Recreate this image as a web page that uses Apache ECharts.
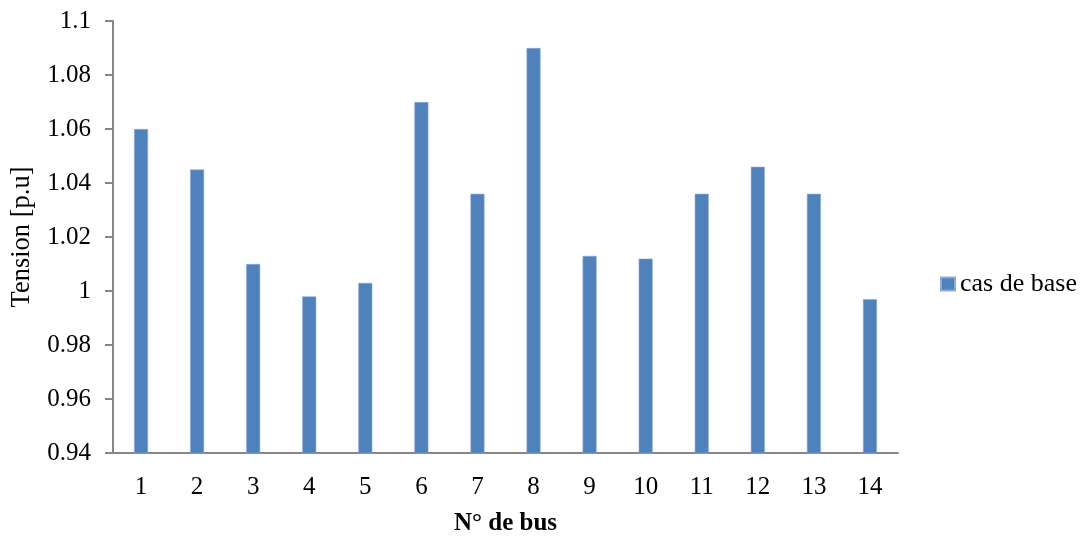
<!DOCTYPE html>
<html>
<head>
<meta charset="utf-8">
<script src="https://cdn.jsdelivr.net/npm/echarts@6/dist/echarts.min.js"></script>
<style>
  html, body { margin: 0; padding: 0; background: #fff; }
  #chart { width: 1087px; height: 541px; }
</style>
</head>
<body>
<div id="chart"></div>
<script>
// Bus numbers and per-unit voltage magnitudes (base case)
const buses = ['1', '2', '3', '4', '5', '6', '7', '8', '9', '10', '11', '12', '13', '14'];
const tensionBase = [1.060, 1.045, 1.010, 0.998, 1.003, 1.070, 1.036, 1.090, 1.013, 1.012, 1.036, 1.046, 1.036, 0.997];
const seriesName = 'cas de base';
const yMin = 0.94, yMax = 1.1, yStep = 0.02;

const font = 'Liberation Serif, Times New Roman, serif';
const axisGray = '#868686';

const chart = echarts.init(document.getElementById('chart'), null, { renderer: 'canvas' });
chart.setOption({
  animation: false,
  backgroundColor: '#ffffff',
  textStyle: { fontFamily: font, color: '#000' },
  grid: { left: 113, top: 21, right: 189, bottom: 83, containLabel: false },
  legend: {
    data: [seriesName],
    orient: 'vertical',
    left: 940,
    top: 271,
    padding: 0,
    itemWidth: 14,
    itemHeight: 13,
    icon: 'rect',
    textStyle: { fontFamily: font, fontSize: 26, lineHeight: 26, color: '#000' }
  },
  xAxis: {
    type: 'category',
    data: buses,
    name: 'N° de bus',
    nameLocation: 'middle',
    nameGap: 58,
    nameTextStyle: { fontFamily: font, fontSize: 25, fontWeight: 'bold', color: '#000' },
    axisLine: { show: true, lineStyle: { color: axisGray, width: 2 } },
    axisTick: { show: false },
    axisLabel: { margin: 22, fontFamily: font, fontSize: 25, color: '#000' },
    splitLine: { show: false }
  },
  yAxis: {
    type: 'value',
    min: yMin,
    max: yMax,
    interval: yStep,
    name: 'Tension [p.u]',
    nameLocation: 'middle',
    nameGap: 77,
    nameTextStyle: { fontFamily: font, fontSize: 26.5, color: '#000' },
    axisLine: { show: true, lineStyle: { color: axisGray, width: 2 } },
    axisTick: { show: true, inside: false, length: 8, lineStyle: { color: axisGray, width: 2 } },
    axisLabel: {
      margin: 22,
      fontFamily: font,
      fontSize: 25,
      color: '#000',
      formatter: v => String(parseFloat(v.toFixed(2)))
    },
    splitLine: { show: false }
  },
  series: [{
    name: seriesName,
    type: 'bar',
    data: tensionBase,
    barWidth: 14,
    itemStyle: { color: '#4F81BD', borderColor: '#8eaad6', borderWidth: 0.6 }
  }]
});
</script>
</body>
</html>
